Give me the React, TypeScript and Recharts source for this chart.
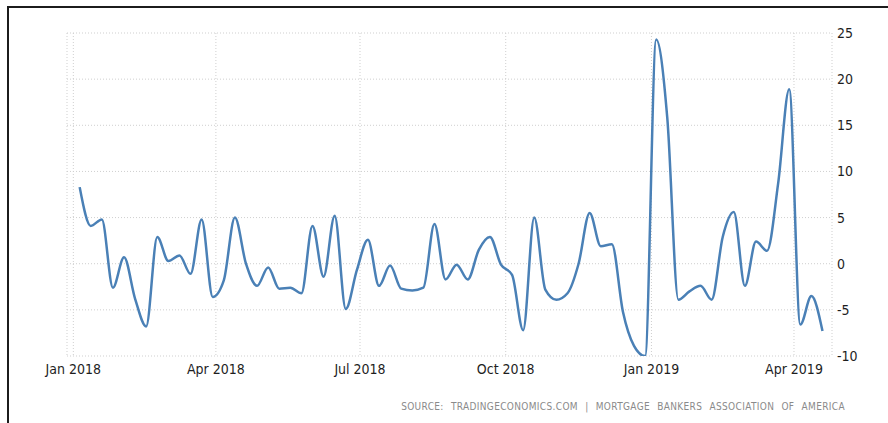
import React from 'react'
import { LineChart, Line, XAxis, YAxis, CartesianGrid } from 'recharts'

// weekly release dates (Fridays)
const weekDates = [
  '2018-01-05', '2018-01-12', '2018-01-19', '2018-01-26',
  '2018-02-02', '2018-02-09', '2018-02-16', '2018-02-23',
  '2018-03-02', '2018-03-09', '2018-03-16', '2018-03-23', '2018-03-30',
  '2018-04-06', '2018-04-13', '2018-04-20', '2018-04-27',
  '2018-05-04', '2018-05-11', '2018-05-18', '2018-05-25',
  '2018-06-01', '2018-06-08', '2018-06-15', '2018-06-22', '2018-06-29',
  '2018-07-06', '2018-07-13', '2018-07-20', '2018-07-27',
  '2018-08-03', '2018-08-10', '2018-08-17', '2018-08-24', '2018-08-31',
  '2018-09-07', '2018-09-14', '2018-09-21', '2018-09-28',
  '2018-10-05', '2018-10-12', '2018-10-19', '2018-10-26',
  '2018-11-02', '2018-11-09', '2018-11-16', '2018-11-23', '2018-11-30',
  '2018-12-07', '2018-12-14', '2018-12-21', '2018-12-28',
  '2019-01-04', '2019-01-11', '2019-01-18', '2019-01-25',
  '2019-02-01', '2019-02-08', '2019-02-15', '2019-02-22',
  '2019-03-01', '2019-03-08', '2019-03-15', '2019-03-22', '2019-03-29',
  '2019-04-05', '2019-04-12', '2019-04-19',
]

// MBA mortgage applications, % change week over week
const applications = [
  8.3, 4.1, 4.8, -2.6,
  0.7, -3.8, -6.8, 2.9,
  0.3, 0.9, -1.1, 4.8, -3.6,
  -1.8, 5.0, 0.0, -2.4,
  -0.4, -2.7, -2.6, -3.2,
  4.1, -1.4, 5.2, -4.9, -0.7,
  2.6, -2.4, -0.2, -2.7,
  -2.9, -2.6, 4.3, -1.7, -0.1,
  -1.7, 1.5, 2.9, -0.1,
  -1.2, -7.2, 5.0, -2.8,
  -3.9, -3.2, 0.0, 5.5, 1.9,
  2.1, -5.2, -8.9, -10.0,
  24.3, 15.8, -3.9, -3.0,
  -2.4, -3.9, 2.9, 5.6,
  -2.4, 2.4, 1.4, 8.7, 18.9,
  -6.6, -3.5, -7.3,
]

const xTickDates = ['2018-01-01', '2018-04-01', '2018-07-01', '2018-10-01', '2019-01-01', '2019-04-01']
const xTickLabels = ['Jan 2018', 'Apr 2018', 'Jul 2018', 'Oct 2018', 'Jan 2019', 'Apr 2019']
const yTicks = [-10, -5, 0, 5, 10, 15, 20, 25]

const origin = Date.UTC(2018, 0, 1)
const toDay = (s: string) => {
  const [y, m, d] = s.split('-').map(Number)
  return Math.round((Date.UTC(y, m - 1, d) - origin) / 86400000)
}

const data = weekDates.map((d, i) => ({ day: toDay(d), value: applications[i] }))
const xTicks = xTickDates.map(toDay)

const font = '"DejaVu Sans Condensed", "Liberation Sans", sans-serif'

export default function App() {
  return (
    <div style={{ position: 'absolute', left: 0, top: 0, width: 888, height: 423, overflow: 'hidden', background: '#fff' }}>
      <div style={{ position: 'absolute', left: 7, top: 6, right: -2, bottom: -2, borderTop: '2px solid #1c1c1c', borderLeft: '2px solid #1c1c1c' }} />
      <div style={{ position: 'absolute', left: 0, top: 0 }}>
        <LineChart width={888} height={423} data={data} margin={{ top: 33, left: 67, right: 6, bottom: 37 }}>
          <CartesianGrid stroke="#cfcfcf" strokeDasharray="1 2" />
          <XAxis
            dataKey="day"
            type="number"
            domain={[-4, 479]}
            ticks={xTicks}
            tickFormatter={(v: number) => xTickLabels[xTicks.indexOf(v)]}
            axisLine={false}
            tickLine={false}
            tickSize={0}
            tickMargin={8}
            height={30}
            tick={{ fill: '#1e1e1e', fontSize: 14, fontFamily: font }}
          />
          <YAxis
            orientation="right"
            domain={[-10, 25]}
            ticks={yTicks}
            allowDataOverflow
            axisLine={false}
            tickLine={false}
            tickSize={0}
            tickMargin={5}
            width={50}
            tick={{ fill: '#1e1e1e', fontSize: 14, fontFamily: font, textAnchor: 'start' }}
          />
          <Line
            type="monotone"
            dataKey="value"
            stroke="#4a80b6"
            strokeWidth={2.5}
            dot={false}
            isAnimationActive={false}
          />
        </LineChart>
      </div>
      <div
        style={{
          position: 'absolute',
          right: 43,
          top: 401,
          fontFamily: font,
          fontSize: 10,
          letterSpacing: 0.35,
          wordSpacing: 4,
          color: '#8a8a8a',
          whiteSpace: 'nowrap',
        }}
      >
        SOURCE: TRADINGECONOMICS.COM | MORTGAGE BANKERS ASSOCIATION OF AMERICA
      </div>
    </div>
  )
}
